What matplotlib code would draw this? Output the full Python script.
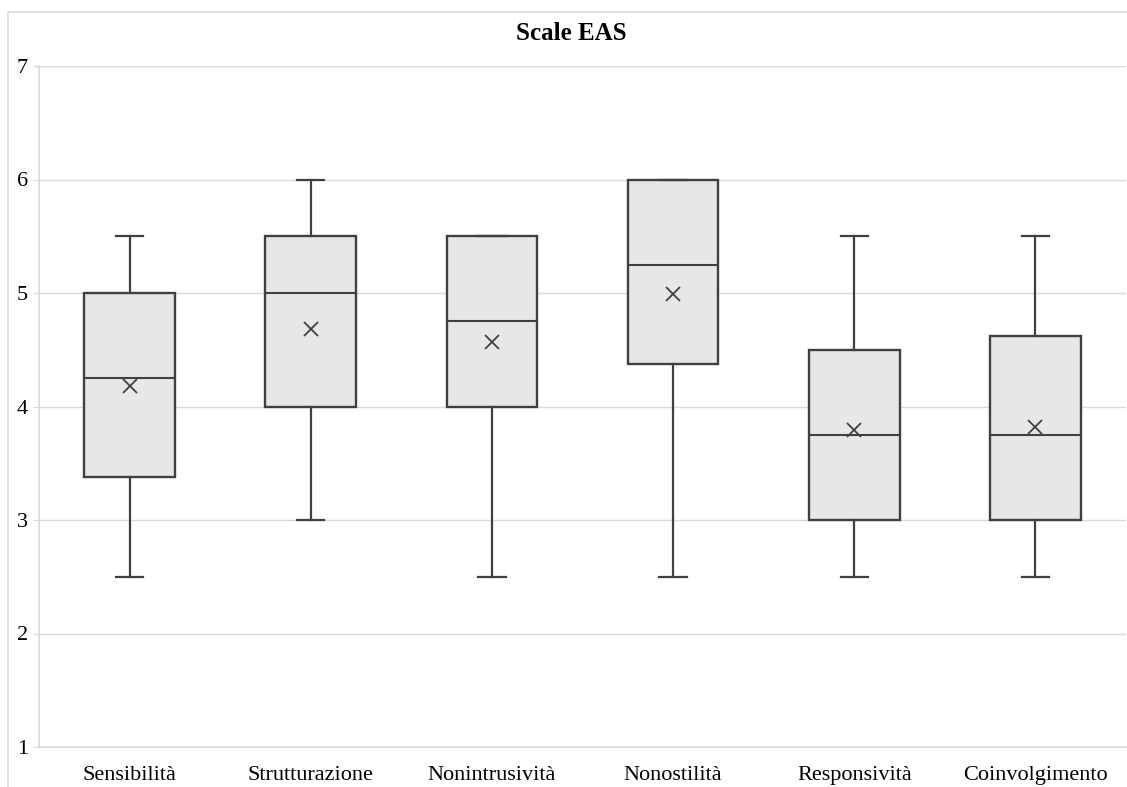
import matplotlib
matplotlib.use("Agg")
import matplotlib.pyplot as plt
from matplotlib.patches import Rectangle

categories = ["Sensibilità", "Strutturazione", "Nonintrusività", "Nonostilità", "Responsività", "Coinvolgimento"]
whisker_low = [2.5, 3.0, 2.5, 2.5, 2.5, 2.5]
q1 = [3.375, 4.0, 4.0, 4.375, 3.0, 3.0]
median = [4.25, 5.0, 4.75, 5.25, 3.75, 3.75]
q3 = [5.0, 5.5, 5.5, 6.0, 4.5, 4.625]
whisker_high = [5.5, 6.0, 5.5, 6.0, 5.5, 5.5]
means = [4.18, 4.68, 4.57, 4.99, 3.79, 3.82]
yticks = [1, 2, 3, 4, 5, 6, 7]
title = "Scale EAS"

plt.rcParams['font.family'] = ['Liberation Serif', 'DejaVu Serif']

W, H = 1127, 787
fig = plt.figure(figsize=(W/100, H/100), dpi=100)
ax = fig.add_axes([39/W, 1-747/H, (1126-39)/W, (747-66)/H])

stats = []
for i, c in enumerate(categories):
    stats.append(dict(label=c, whislo=whisker_low[i], q1=q1[i], med=median[i],
                      q3=q3[i], whishi=whisker_high[i], mean=means[i], fliers=[]))

lc = '#404040'
positions = list(range(len(categories)))
ax.bxp(stats, positions=positions, widths=0.5, patch_artist=True, showmeans=True,
       capwidths=0.15,
       boxprops=dict(facecolor='#e7e7e7', edgecolor=lc, linewidth=1.7),
       medianprops=dict(color=lc, linewidth=1.5),
       whiskerprops=dict(color=lc, linewidth=1.6),
       capprops=dict(color=lc, linewidth=1.6),
       meanprops=dict(marker='x', markeredgecolor=lc, markersize=10, markeredgewidth=1.3))

ax.set_xlim(-0.5, len(categories)-0.5)
ax.set_ylim(1, 7)
ax.set_yticks(yticks)
ax.set_yticklabels([str(t) for t in yticks], fontsize=16)
ax.set_xticks(positions)
ax.set_xticklabels(categories, fontsize=16)
ax.yaxis.grid(True, color='#d9d9d9', linewidth=1)
ax.set_axisbelow(True)
for s in ['top', 'right']:
    ax.spines[s].set_visible(False)
for s in ['left', 'bottom']:
    ax.spines[s].set_color('#d9d9d9')
    ax.spines[s].set_linewidth(1.2)
ax.tick_params(axis='y', length=4, color='#d9d9d9', pad=4)
ax.tick_params(axis='x', length=0, pad=14)

fig.text(571/W, 1 - 33/H, title, ha='center', va='center',
         fontsize=18, fontweight='bold')

fig.patches.append(Rectangle((8/W, -0.01), 1.0, 1 - 12/H + 0.01, transform=fig.transFigure,
                             fill=False, edgecolor='#d9d9d9', linewidth=1.2))

fig.savefig("out.png", dpi=100)
